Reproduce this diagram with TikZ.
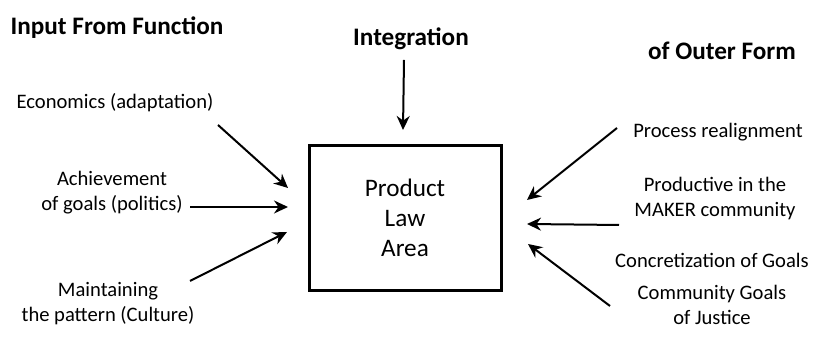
\documentclass[tikz,border=0pt]{standalone}
\usepackage{fontspec}
\setmainfont{Carlito}
\usetikzlibrary{arrows.meta}
\tikzstyle{item}=[align=center, inner sep=1pt, font=\fontsize{10.3}{12.5}\selectfont]
\tikzstyle{heading}=[inner sep=1pt, font=\bfseries\fontsize{12.6}{15}\selectfont]
\tikzstyle{area}=[draw, line width=1.5pt, minimum width=96pt, minimum height=72.5pt, align=center, font=\fontsize{12.6}{15}\selectfont]
\tikzstyle{flow}=[-{Stealth[length=7pt,width=6.5pt]}, line width=1pt]

\begin{document}
\begin{tikzpicture}[x=0.5pt, y=-0.5pt]
  \useasboundingbox (0, 0) rectangle (815, 356);

  \node [heading] at (117, 28) (inhead) {Input From Function};
  \node [heading] at (411, 39) (integ) {Integration};
  \node [heading] at (722, 51) (outhead) {of Outer Form};

  \node [area] at (405, 218) (law) {Product\\Law\\Area};

  % left side
  \node [item] at (115, 103) (econ) {Economics (adaptation)};
  \node [item] at (112, 193) (goals) {Achievement\\of goals (politics)};
  \node [item] at (108, 304) (culture) {Maintaining\\the pattern (Culture)};

  % right side
  \node [item] at (718, 132) (realign) {Process realignment};
  \node [item] at (715, 199) (maker) {Productive in the\\MAKER community};
  \node [item] at (712, 260) (concrete) {Concretization of Goals};
  \node [item] at (712, 305) (justice) {Community Goals\\of Justice};

  % arrow ends
  \coordinate (integFrom) at (404, 60);
  \coordinate (integTo) at (403, 130);
  \coordinate (econFrom) at (218, 125);
  \coordinate (econTo) at (288, 188);
  \coordinate (goalsTo) at (288, 207);
  \coordinate (cultureFrom) at (190, 281);
  \coordinate (cultureTo) at (287, 232);
  \coordinate (realignFrom) at (617, 128);
  \coordinate (realignTo) at (527, 200);
  \coordinate (makerFrom) at (619, 225);
  \coordinate (makerTo) at (527, 224);
  \coordinate (justiceFrom) at (610, 306);
  \coordinate (justiceTo) at (528, 244);

  \draw [flow] (integFrom) -- (integTo);
  \draw [flow] (econFrom) -- (econTo);
  \draw [flow] (goals.east |- goalsTo) ++(5, 0) -- (goalsTo);
  \draw [flow] (cultureFrom) -- (cultureTo);
  \draw [flow] (realignFrom) -- (realignTo);
  \draw [flow] (makerFrom) -- (makerTo);
  \draw [flow] (justiceFrom) -- (justiceTo);
\end{tikzpicture}
\end{document}
